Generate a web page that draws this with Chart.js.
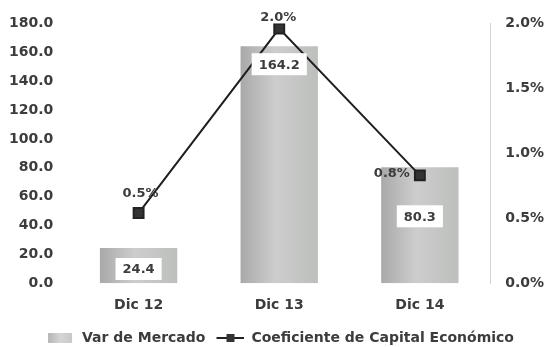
<!DOCTYPE html>
<html><head><meta charset="utf-8">
<script src="https://cdn.jsdelivr.net/npm/chart.js@4"></script>
<style>html,body{margin:0;padding:0;background:#fff}#w{width:547px;height:347px}</style>
</head><body><div id="w"><canvas id="c"></canvas></div>
<script>
const categories = ["Dic 12", "Dic 13", "Dic 14"];
const varMercado = [24.4, 164.2, 80.3];
const coeficiente = [0.54, 1.96, 0.83];
const seriesNames = ["Var de Mercado", "Coeficiente de Capital Económico"];

const FONT = "'DejaVu Sans', sans-serif";
const TXT = "#3c3c3c";
const BAR_PCT = 0.55;

function swatchBar(){
  const c = document.createElement('canvas'); c.width = 36; c.height = 10;
  const x = c.getContext('2d');
  const g = x.createLinearGradient(9,0,33,0);
  g.addColorStop(0,'#b5b5b5'); g.addColorStop(0.5,'#d6d6d6'); g.addColorStop(1,'#c8c8c8');
  x.fillStyle = g; x.fillRect(9,0,24,10); return c;
}
function swatchLine(){
  const c = document.createElement('canvas'); c.width = 36; c.height = 10;
  const x = c.getContext('2d');
  x.strokeStyle = '#222'; x.lineWidth = 2; x.beginPath(); x.moveTo(8,5); x.lineTo(36,5); x.stroke();
  x.fillStyle = '#333'; x.fillRect(18,1,8,8); return c;
}

const labelPlugin = {
  id: 'vals',
  afterDatasetsDraw(chart){
    const ctx = chart.ctx;
    ctx.save();
    ctx.font = "bold 13px " + FONT;
    ctx.textAlign = 'center'; ctx.textBaseline = 'middle';
    const barMeta = chart.getDatasetMeta(0);
    const barOff = [21, 18, 49];
    barMeta.data.forEach((el, i) => {
      const t = varMercado[i].toFixed(1);
      const w = ctx.measureText(t).width + 14;
      const y = el.y + barOff[i];
      ctx.fillStyle = '#fff';
      ctx.fillRect(el.x - w/2, y - 11, w, 22);
      ctx.fillStyle = TXT;
      ctx.fillText(t, el.x, y + 1);
    });
    const lineMeta = chart.getDatasetMeta(1);
    const dx = [2, -1, -28], dy = [-19, -11, -2];
    lineMeta.data.forEach((el, i) => {
      const t = coeficiente[i].toFixed(1) + '%';
      ctx.fillStyle = TXT;
      ctx.fillText(t, el.x + dx[i], el.y + dy[i]);
    });
    ctx.restore();
  }
};

new Chart(document.getElementById('c'), {
  data: {
    labels: categories,
    datasets: [
      {
        type: 'bar', label: seriesNames[0], data: varMercado, yAxisID: 'y', order: 2,
        barPercentage: BAR_PCT, categoryPercentage: 1,
        backgroundColor(ctx){
          const ch = ctx.chart; const sx = ch.scales && ch.scales.x;
          if (!sx || !ch.chartArea || ctx.dataIndex === undefined) return '#bdbdbd';
          const cx = sx.getPixelForValue(ctx.dataIndex);
          const w = (sx.width / categories.length) * BAR_PCT;
          const x0 = cx - w/2;
          if (!isFinite(x0) || !isFinite(w)) return '#bdbdbd';
          const g = ch.ctx.createLinearGradient(x0, 0, x0 + w, 0);
          g.addColorStop(0, '#a9a9a9'); g.addColorStop(0.45, '#cdcdcd'); g.addColorStop(1, '#bcbfbc');
          return g;
        }
      },
      {
        type: 'line', label: seriesNames[1], data: coeficiente, yAxisID: 'y1', order: 1,
        borderColor: '#1f1f1f', borderWidth: 2, pointStyle: 'rect', pointRadius: 7,
        pointBackgroundColor: '#333', pointBorderColor: '#222', tension: 0
      }
    ]
  },
  options: {
    responsive: true, maintainAspectRatio: false, animation: false,
    layout: { autoPadding: false, padding: { top: 14, left: -6, right: -12, bottom: -8 } },
    plugins: {
      tooltip: { enabled: false },
      legend: {
        position: 'bottom',
        labels: {
          usePointStyle: true, pointStyleWidth: 36, color: TXT, padding: 3,
          font: { family: FONT, size: 14, weight: 'bold' },
          generateLabels(chart){
            return [
              { text: seriesNames[0], pointStyle: swatchBar(), fontColor: TXT, lineWidth: 0, datasetIndex: 0, hidden: false },
              { text: seriesNames[1], pointStyle: swatchLine(), fontColor: TXT, lineWidth: 0, datasetIndex: 1, hidden: false }
            ];
          }
        }
      }
    },
    scales: {
      x: {
        grid: { display: false, drawTicks: false },
        border: { display: false },
        ticks: { color: TXT, font: { family: FONT, size: 14, weight: 'bold' }, padding: 14 }
      },
      y: {
        position: 'left', min: 0, max: 180,
        grid: { display: false, drawTicks: false },
        border: { display: false },
        ticks: { stepSize: 20, color: TXT, padding: 15, font: { family: FONT, size: 14, weight: 'bold' },
          callback: v => Number(v).toFixed(1) }
      },
      y1: {
        position: 'right', min: 0, max: 2,
        grid: { display: false, drawTicks: false },
        border: { display: true, color: '#d4d4d4', width: 1 },
        ticks: { stepSize: 0.5, color: TXT, padding: 15, font: { family: FONT, size: 14, weight: 'bold' },
          callback: v => Number(v).toFixed(1) + '%' }
      }
    }
  },
  plugins: [labelPlugin]
});
</script>
</body></html>
